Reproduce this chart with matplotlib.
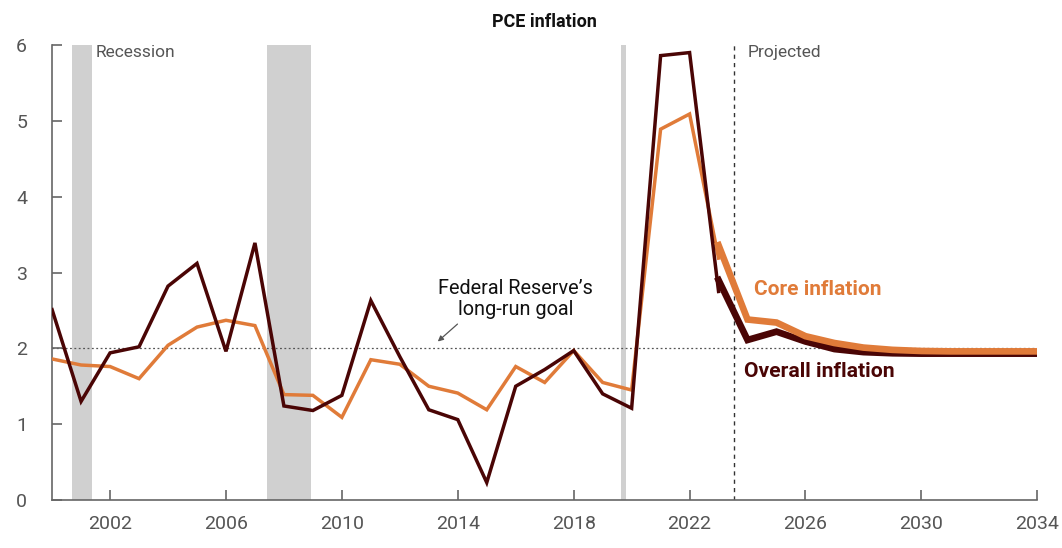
import matplotlib
matplotlib.use("Agg")
import matplotlib.pyplot as plt

plt.rcParams['font.family'] = ['Roboto', 'DejaVu Sans']

years_hist = list(range(2000, 2024))
overall_hist = [2.51, 1.30, 1.94, 2.02, 2.82, 3.12, 1.96, 3.39, 1.24, 1.18, 1.38, 2.63,
                1.89, 1.19, 1.06, 0.23, 1.50, 1.72, 1.97, 1.40, 1.21, 5.86, 5.90, 2.75]
core_hist = [1.86, 1.78, 1.76, 1.60, 2.04, 2.28, 2.37, 2.30, 1.39, 1.38, 1.09, 1.85,
             1.79, 1.50, 1.41, 1.19, 1.76, 1.55, 1.97, 1.55, 1.45, 4.89, 5.09, 3.19]

years_proj = list(range(2023, 2035))
overall_proj = [2.90, 2.11, 2.22, 2.09, 1.99, 1.95, 1.935, 1.93, 1.93, 1.93, 1.93, 1.93]
core_proj = [3.36, 2.38, 2.34, 2.16, 2.07, 2.01, 1.98, 1.965, 1.96, 1.96, 1.96, 1.96]

recessions = [(2000.69, 2001.37), (2007.43, 2008.94), (2019.63, 2019.79)]
projection_start = 2023.55
goal = 2.0

x_ticks = [2002, 2006, 2010, 2014, 2018, 2022, 2026, 2030, 2034]
y_ticks = [0, 1, 2, 3, 4, 5, 6]

dark = '#4a0505'
orange = '#e07b39'
gray_txt = '#555555'

fig = plt.figure(figsize=(10.62, 5.48), dpi=100)
ax = fig.add_axes([52.1 / 1062, 1 - 500 / 548, (1037.3 - 52.1) / 1062, (500 - 45) / 548])

for a, b in recessions:
    ax.axvspan(a, b, color='#d0d0d0', lw=0, zorder=0)

ax.axhline(goal, color='#555555', lw=0.9, ls=(0, (1.5, 2.0)), zorder=1)
ax.axvline(projection_start, color='#333333', lw=1.0, ls=(0, (3, 3)), zorder=1)

ax.plot(years_hist, core_hist, color=orange, lw=2.5, zorder=3, solid_joinstyle='miter')
ax.plot(years_hist, overall_hist, color=dark, lw=2.5, zorder=4, solid_joinstyle='miter')
ax.plot(years_proj, overall_proj, color=dark, lw=4.8, zorder=4, solid_joinstyle='miter')
ax.plot(years_proj, core_proj, color=orange, lw=4.8, zorder=5, solid_joinstyle='miter')

ax.set_xlim(2000, 2034)
ax.set_ylim(0, 6)
ax.set_xticks(x_ticks)
ax.set_yticks(y_ticks)
ax.set_xticklabels([str(t) for t in x_ticks])
ax.set_yticklabels([str(t) for t in y_ticks])

for s in ['top', 'right']:
    ax.spines[s].set_visible(False)
for s in ['left', 'bottom']:
    ax.spines[s].set_color('#666666')
    ax.spines[s].set_linewidth(1.2)

ax.tick_params(axis='both', direction='in', length=7, width=1.2, color='#666666',
               labelcolor=gray_txt, labelsize=14)
ax.tick_params(axis='y', pad=18)
ax.tick_params(axis='x', pad=11)

ax.set_title('PCE inflation', fontsize=13, fontweight='bold', color='#111111', pad=13)

ax.text(2001.49, 5.90, 'Recession', fontsize=12.5, color=gray_txt, ha='left', va='center')
ax.text(2024.02, 5.90, 'Projected', fontsize=12.5, color=gray_txt, ha='left', va='center')
ax.text(2016.0, 2.65, 'Federal Reserve\u2019s\nlong-run goal', fontsize=14.3, color='#111111',
        ha='center', va='center', linespacing=1.12)
ax.annotate('', xy=(2013.31, 2.09), xytext=(2013.99, 2.32),
            arrowprops=dict(arrowstyle='-|>', color='#555555', lw=0.9,
                            mutation_scale=8, shrinkA=0, shrinkB=0))
ax.text(2024.23, 2.77, 'Core inflation', fontsize=15, fontweight='bold', color=orange,
        ha='left', va='center')
ax.text(2023.88, 1.69, 'Overall inflation', fontsize=15.2, fontweight='bold', color=dark,
        ha='left', va='center')

fig.savefig('out.png', dpi=100)
